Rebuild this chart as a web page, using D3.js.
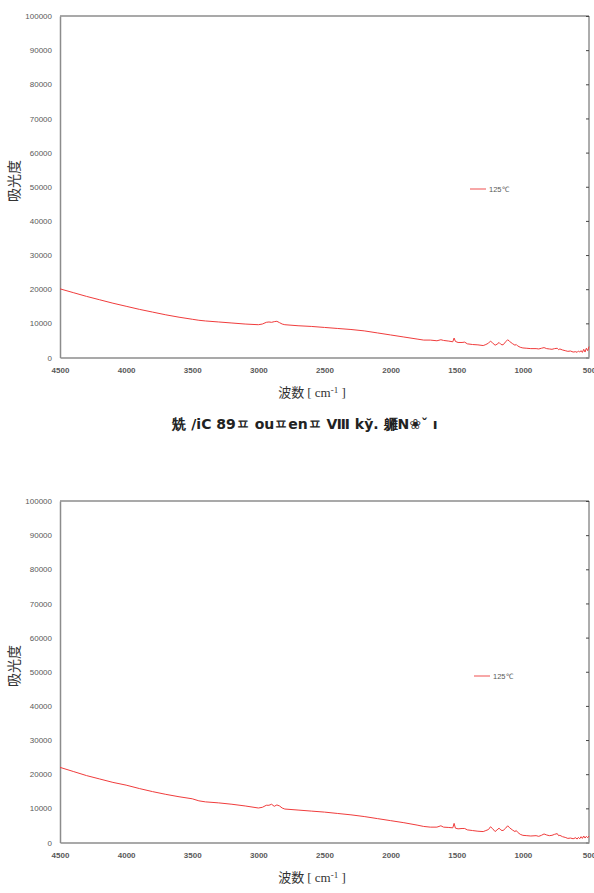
<!DOCTYPE html>
<html>
<head>
<meta charset="utf-8">
<script src="https://cdn.jsdelivr.net/npm/d3@7"></script>
<style>
  body { margin: 0; background: #fff; }
  svg { display: block; }
</style>
</head>
<body>
<svg id="page" width="594" height="893"></svg>
<script>
(function () {
  // wavenumbers (cm-1), shared by both spectra
  const waveNums = [4500, 4400, 4300, 4200, 4100, 4000, 3900, 3800, 3700, 3600, 3500,
    3450, 3400, 3300, 3200, 3100, 3000,
    2970, 2940, 2920, 2900, 2880, 2860, 2840, 2820, 2800,
    2700, 2600, 2500, 2400, 2300, 2200, 2100, 2000, 1900, 1800,
    1750, 1700, 1650, 1620, 1600, 1560, 1530, 1520, 1510, 1490, 1460, 1440, 1420, 1380, 1340, 1300,
    1280, 1260, 1245, 1230, 1210, 1195, 1180, 1165, 1150, 1130, 1115, 1100, 1080, 1060, 1050, 1040, 1020, 1000,
    970, 940, 900, 880, 860, 840, 820, 800, 780, 760, 740, 730, 720, 700, 680, 660, 640, 620, 600,
    590, 580, 570, 560, 550, 540, 530, 520, 510, 500];

  const absorbTop = [20100, 19000, 17900, 16900, 15900, 15000, 14100, 13300, 12500, 11800, 11200,
    10900, 10700, 10400, 10100, 9800, 9600,
    9800, 10300, 10400, 10300, 10500, 10600, 10200, 9800, 9600,
    9300, 9100, 8800, 8500, 8200, 7800, 7200, 6600, 6000, 5400,
    5100, 5100, 4900, 5200, 5000, 4800, 4600, 5700, 4700, 4400, 4400, 4500, 4000, 3800, 3700, 3500,
    3800, 4200, 4800, 4300, 3600, 3900, 4400, 3800, 3700, 4600, 5200, 4700, 4100, 3600, 3800, 3400, 3000, 2800,
    2700, 2600, 2600, 2500, 2700, 2900, 2600, 2500, 2400, 2600, 2700, 2300, 2500, 2200, 2000, 1800, 1900, 1600, 1700,
    1500, 1900, 1600, 2000, 1500, 2400, 1600, 2700, 2000, 3200];

  const absorbBottom = [22000, 20800, 19600, 18600, 17600, 16800, 15800, 14900, 14100, 13400, 12800,
    12200, 11900, 11600, 11200, 10700, 10100,
    10300, 10900, 10900, 11200, 10600, 11000, 10700, 10100, 9800,
    9500, 9200, 8900, 8500, 8100, 7600, 7000, 6400, 5800, 5100,
    4700, 4500, 4500, 4900, 4500, 4400, 4300, 5600, 4200, 4000, 4100, 4100, 3700, 3500, 3300, 3200,
    3500, 3800, 4600, 4100, 3200, 3700, 4200, 3600, 3500, 4200, 4900, 4300, 3700, 3200, 3500, 3000, 2400, 2100,
    2000, 1900, 2000, 1800, 2100, 2500, 2200, 2000, 2100, 2400, 2600, 2000, 2100, 1700, 1500, 1200, 1300, 1100, 1400,
    1000, 1500, 1100, 1700, 1200, 1900, 1300, 1800, 1400, 1900];

  const xTicks = [4500, 4000, 3500, 3000, 2500, 2000, 1500, 1000, 500];
  const yTicks = [0, 10000, 20000, 30000, 40000, 50000, 60000, 70000, 80000, 90000, 100000];
  const seriesName = '125℃';
  const caption = '兟 /iC  89ㅍ ouㅍenㅍ Ⅷ ky̆. 軅N❀ˇ  ı';

  const svg = d3.select('#page');

  const width = 589 - 60;
  const height = 341.5;

  const x = d3.scaleLinear().domain([4500, 500]).range([0, width]);
  const y = d3.scaleLinear().domain([0, 100000]).range([height, 0]);

  const line = d3
    .line()
    .x((d) => x(d[0]))
    .y((d) => y(d[1]));

  function drawChart(top, values, legendX, legendY) {
    const g = svg.append('g').attr('transform', `translate(60,${top})`);

    // frame: top and right edges
    g.append('line')
      .attr('x1', 0).attr('x2', width).attr('y1', 0).attr('y2', 0)
      .attr('stroke', '#8c8c8c').attr('stroke-width', 1.5);
    g.append('line')
      .attr('x1', width).attr('x2', width).attr('y1', 0).attr('y2', height)
      .attr('stroke', '#5a5a5a').attr('stroke-width', 1);

    // right axis ticks point inwards
    g.append('g')
      .attr('transform', `translate(${width},0)`)
      .call(d3.axisLeft(y).tickValues(yTicks).tickSize(3).tickFormat(''))
      .call((a) => a.select('.domain').remove())
      .call((a) => a.selectAll('line').attr('stroke', '#444'));

    const yAxis = g.append('g')
      .call(d3.axisLeft(y).tickValues(yTicks).tickSize(0).tickPadding(8).tickFormat(d3.format('d')));
    yAxis.select('.domain').attr('stroke', '#8c8c8c').attr('stroke-width', 1.5);
    yAxis.selectAll('text')
      .style('font-family', 'Liberation Sans, Arial, sans-serif')
      .style('font-size', '8px')
      .attr('fill', '#595959');

    const xAxis = g.append('g')
      .attr('transform', `translate(0,${height})`)
      .call(d3.axisBottom(x).tickValues(xTicks).tickSize(0).tickPadding(10).tickFormat(d3.format('d')));
    xAxis.select('.domain').attr('stroke', '#8c8c8c').attr('stroke-width', 1.5);
    xAxis.selectAll('text')
      .style('font-family', 'Liberation Sans, Arial, sans-serif')
      .style('font-size', '8px')
      .style('font-weight', 'bold')
      .attr('fill', '#595959');

    const pts = waveNums.map((w, i) => [w, values[i]]);
    g.append('path')
      .datum(pts)
      .attr('fill', 'none')
      .attr('stroke', '#f03c3c')
      .attr('stroke-width', 1)
      .attr('stroke-linejoin', 'round')
      .attr('d', line);

    // legend
    g.append('line')
      .attr('x1', legendX - 60).attr('x2', legendX - 60 + 16)
      .attr('y1', legendY - top).attr('y2', legendY - top)
      .attr('stroke', '#f58a8a').attr('stroke-width', 1.5);
    g.append('text')
      .attr('x', legendX - 60 + 19)
      .attr('y', legendY - top + 2.5)
      .style('font-family', 'Liberation Sans, Arial, sans-serif')
      .style('font-size', '7.5px')
      .attr('fill', '#595959')
      .text(seriesName);

    // axis titles
    const xt = svg.append('text')
      .attr('x', 312)
      .attr('y', top + height + 39)
      .attr('text-anchor', 'middle')
      .style('font-size', '13px')
      .attr('fill', '#333');
    xt.append('tspan').style('font-family', 'Noto Sans CJK JP, sans-serif').text('波数 ');
    xt.append('tspan').style('font-family', 'Liberation Serif, serif').text('[ cm');
    xt.append('tspan').attr('dy', -4).style('font-family', 'Liberation Serif, serif')
      .style('font-size', '9px').text('-1');
    xt.append('tspan').attr('dy', 4).style('font-family', 'Liberation Serif, serif').text(' ]');

    svg.append('text')
      .attr('transform', `translate(19,${top + 165}) rotate(-90)`)
      .attr('text-anchor', 'middle')
      .style('font-family', 'Noto Sans CJK JP, sans-serif')
      .style('font-size', '14px')
      .attr('fill', '#333')
      .text('吸光度');
  }

  drawChart(16, absorbTop, 470, 189);
  drawChart(501, absorbBottom, 474, 676);

  svg.append('text')
    .attr('x', 305)
    .attr('y', 429)
    .attr('text-anchor', 'middle')
    .style('font-family', 'DejaVu Sans, sans-serif')
    .style('font-size', '14px')
    .style('font-weight', 'bold')
    .attr('fill', '#222')
    .text(caption);
})();
</script>
</body>
</html>
